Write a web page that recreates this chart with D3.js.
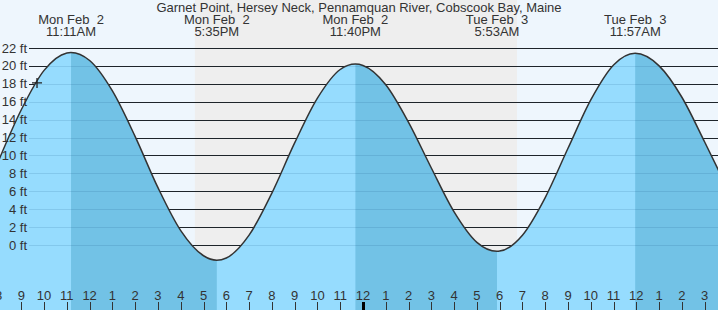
<!DOCTYPE html>
<html>
<head>
<meta charset="utf-8">
<script src="https://cdn.jsdelivr.net/npm/d3@7"></script>
<style>
  body { margin: 0; background: #fff; }
  svg { display: block; font-family: "Liberation Sans", Arial, sans-serif; }
</style>
</head>
<body>
<div id="tide_chart"></div>
<script>
// tide readings, hours counted from Mon Feb 2 00:00
const tideHours = [8, 9, 10, 11, 11.18, 12, 13, 14, 15, 16, 17, 17.58, 18, 19, 20, 21, 22, 23, 23.67,
  24, 25, 26, 27, 28, 29, 29.88, 30, 31, 32, 33, 34, 35, 35.95, 37, 38, 39, 40];
const tideFeet = [9.4, 15.1, 19.5, 21.45, 21.5, 20.6, 17.2, 12.1, 6.4, 1.6, -1.2, -1.7, -1.45, 1.1, 5.8, 11.4, 16.4, 19.6, 20.2,
  20.05, 17.9, 13.7, 8.6, 3.7, 0.3, -0.7, -0.68, 1.1, 5.3, 10.8, 16.2, 20.1, 21.4, 20.0, 16.5, 11.5, 6.3];

// high / low tide labels
const extremeHours = [11.183, 17.583, 23.667, 29.883, 35.95];
const extremeDays = ["Mon Feb  2", "Mon Feb  2", "Mon Feb  2", "Tue Feb  3", "Tue Feb  3"];
const extremeTimes = ["11:11AM", "5:35PM", "11:40PM", "5:53AM", "11:57AM"];
const extremeType = ["H", "L", "H", "L", "H"];

const feetTicks = [0, 2, 4, 6, 8, 10, 12, 14, 16, 18, 20, 22];
const sunsetHour = 16.62, sunriseHour = 30.76;
const nowHour = 9.69, nowFeet = 18.1;
const viewStart = 8.065, viewEnd = 39.585;
const title = "Garnet Point, Hersey Neck, Pennamquan River, Cobscook Bay, Maine";

const width = 718, height = 310;
const base = Date.UTC(2026, 1, 2);
const toDate = h => new Date(base + h * 3600e3);

const svg = d3.select("#tide_chart").append("svg")
  .attr("width", width).attr("height", height);

const x = d3.scaleUtc().domain([toDate(viewStart), toDate(viewEnd)]).range([0, width]);
const y = d3.scaleLinear().domain([0, 22]).range([245, 48]);

const pts = tideHours.map((h, i) => ({t: toDate(h), v: tideFeet[i]}));

// day / night background
svg.append("rect").attr("width", width).attr("height", height).attr("fill", "#eef6fd");
svg.append("rect")
  .attr("x", x(toDate(sunsetHour))).attr("y", 0)
  .attr("width", x(toDate(sunriseHour)) - x(toDate(sunsetHour)))
  .attr("height", height).attr("fill", "#eeeeee");

// grid lines
const grid = svg.append("g");
grid.selectAll("line").data(feetTicks).enter().append("line")
  .attr("x1", 29).attr("x2", width)
  .attr("y1", d => Math.round(y(d)) + 0.5).attr("y2", d => Math.round(y(d)) + 0.5)
  .attr("stroke", "#222").attr("stroke-width", 1);

// water
const area = d3.area()
  .x(d => x(d.t)).y0(height).y1(d => y(d.v))
  .curve(d3.curveMonotoneX);
const line = d3.line()
  .x(d => x(d.t)).y(d => y(d.v))
  .curve(d3.curveMonotoneX);

svg.append("clipPath").attr("id", "water_clip")
  .append("path").attr("d", area(pts));

svg.append("path").attr("d", area(pts)).attr("fill", "#96dcfe");

// falling tide bands, from each high to the next low
const bands = [];
extremeHours.forEach((h, i) => {
  if (extremeType[i] === "H") {
    const end = i + 1 < extremeHours.length ? extremeHours[i + 1] : 40;
    bands.push([h, end]);
  }
});
svg.append("g").attr("clip-path", "url(#water_clip)")
  .selectAll("rect").data(bands).enter().append("rect")
  .attr("x", d => x(toDate(d[0]))).attr("y", 0)
  .attr("width", d => x(toDate(d[1])) - x(toDate(d[0])))
  .attr("height", height).attr("fill", "#72c2e6");

// faint grid lines through the water
svg.append("g").selectAll("line").data(feetTicks).enter().append("line")
  .attr("x1", 29).attr("x2", width)
  .attr("y1", d => Math.round(y(d)) + 0.5).attr("y2", d => Math.round(y(d)) + 0.5)
  .attr("stroke", "rgba(0,60,110,0.12)").attr("stroke-width", 1);

svg.append("path").attr("d", line(pts))
  .attr("fill", "none").attr("stroke", "#333").attr("stroke-width", 1.5);

// current time marker
const nx = x(toDate(nowHour)), ny = y(nowFeet);
svg.append("path")
  .attr("d", `M${nx - 5},${ny}H${nx + 5}M${nx},${ny - 5}V${ny + 5}`)
  .attr("stroke", "#222").attr("stroke-width", 1.3);

// y labels
svg.append("g").selectAll("text").data(feetTicks).enter().append("text")
  .attr("x", 27).attr("y", d => y(d)).attr("dy", "0.35em")
  .attr("text-anchor", "end").attr("font-size", 13).attr("fill", "#333")
  .text(d => d + " ft");

// x axis: hour ticks along the bottom
const hours = d3.utcHour.range(toDate(8), toDate(40));
const xa = svg.append("g");
xa.selectAll("line").data(hours).enter().append("line")
  .attr("x1", d => Math.round(x(d)) + 0.5).attr("x2", d => Math.round(x(d)) + 0.5)
  .attr("y1", 302).attr("y2", height)
  .attr("stroke", d => d.getUTCHours() === 0 ? "#000" : "#333")
  .attr("stroke-width", d => d.getUTCHours() === 0 ? 3 : 1);
xa.selectAll("text").data(hours).enter().append("text")
  .attr("x", d => x(d)).attr("y", 300)
  .attr("text-anchor", "middle").attr("font-size", 13).attr("fill", "#333")
  .text(d3.utcFormat("%-I"));

// title and tide labels
svg.append("text").attr("x", 359).attr("y", 12)
  .attr("text-anchor", "middle").attr("font-size", 13).attr("fill", "#333")
  .text(title);
const lab = svg.append("g").selectAll("g").data(extremeHours).enter().append("g");
lab.append("text").attr("x", d => x(toDate(d))).attr("y", 24)
  .attr("text-anchor", "middle").attr("font-size", 13).attr("fill", "#333")
  .style("white-space", "pre")
  .text((d, i) => extremeDays[i]);
lab.append("text").attr("x", d => x(toDate(d))).attr("y", 36)
  .attr("text-anchor", "middle").attr("font-size", 13).attr("fill", "#333")
  .text((d, i) => extremeTimes[i]);
</script>
</body>
</html>
